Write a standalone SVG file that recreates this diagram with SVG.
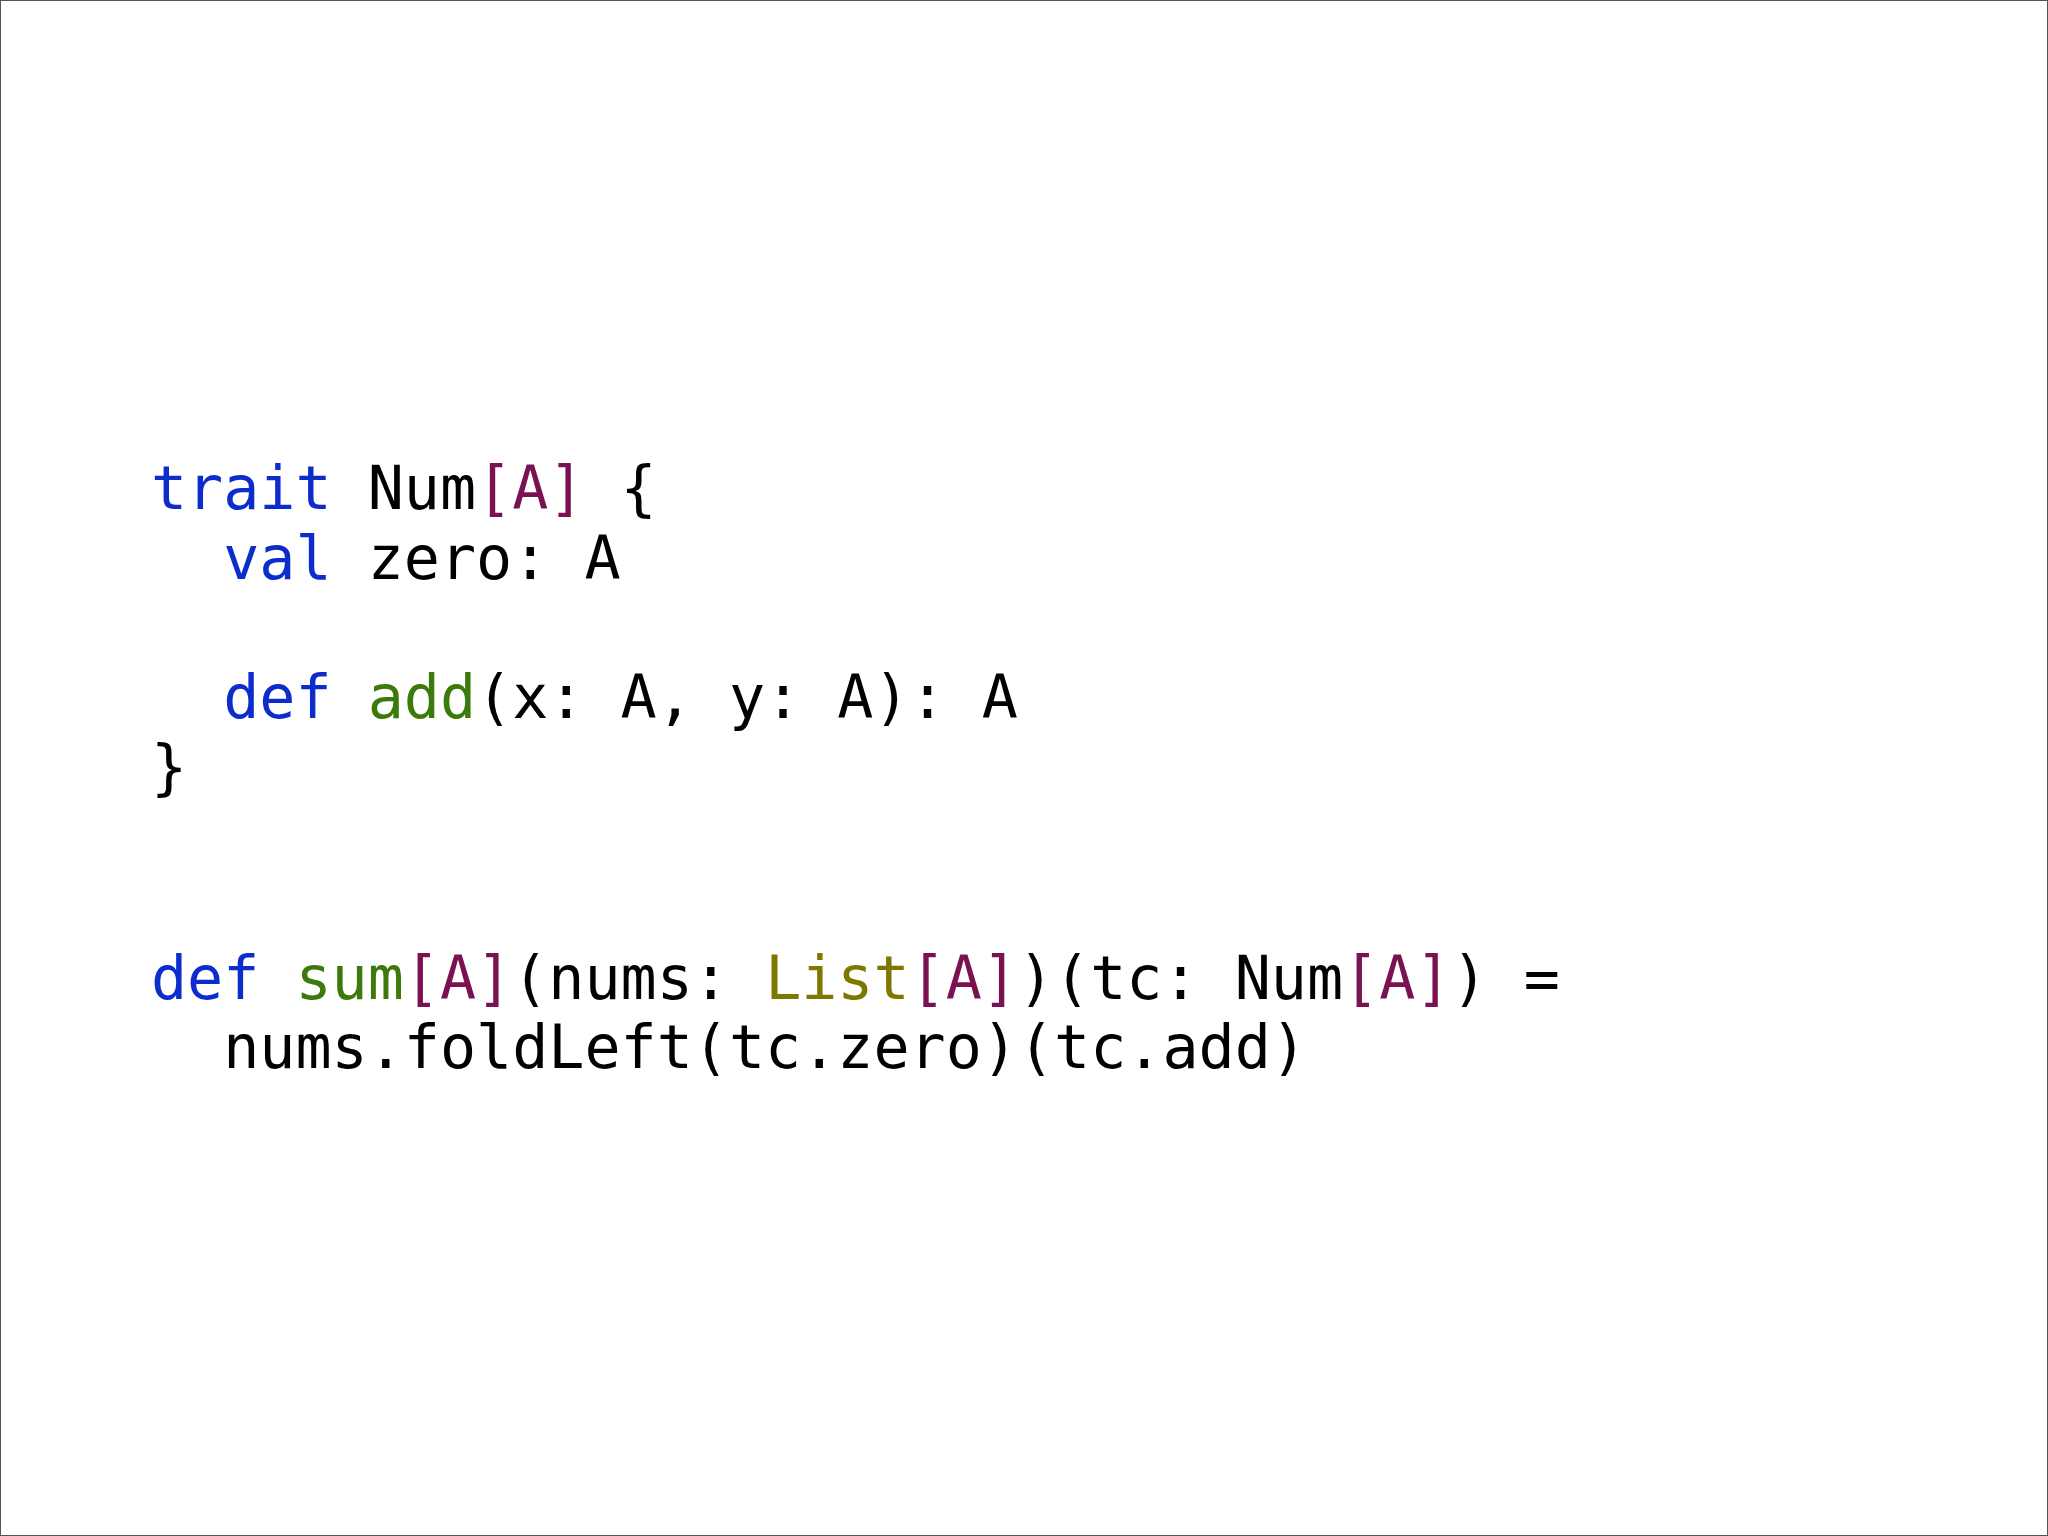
<svg xmlns="http://www.w3.org/2000/svg" width="2048" height="1536" viewBox="0 0 2048 1536">
<style>
text{font-family:"DejaVu Sans Mono",monospace;font-size:60px;fill:#000;white-space:pre}
.k{fill:#0c2ccc}.t{fill:#7a1150}.f{fill:#3b7a0b}.c{fill:#7f7800}
</style>
<rect x="0.5" y="0.5" width="2047" height="1535" fill="#fff" stroke="#555"/>
<g id="code" xml:space="preserve">
<text x="151" y="509"><tspan class="k">trait</tspan> Num<tspan class="t">[A]</tspan> {</text>
<text x="151" y="579">  <tspan class="k">val</tspan> zero: A</text>
<text x="151" y="718">  <tspan class="k">def</tspan> <tspan class="f">add</tspan>(x: A, y: A): A</text>
<text x="151" y="788">}</text>
<text x="151" y="999"><tspan class="k">def</tspan> <tspan class="f">sum</tspan><tspan class="t">[A]</tspan>(nums: <tspan class="c">List</tspan><tspan class="t">[A]</tspan>)(tc: Num<tspan class="t">[A]</tspan>) =</text>
<text x="151" y="1068">  nums.foldLeft(tc.zero)(tc.add)</text>
</g>
</svg>
